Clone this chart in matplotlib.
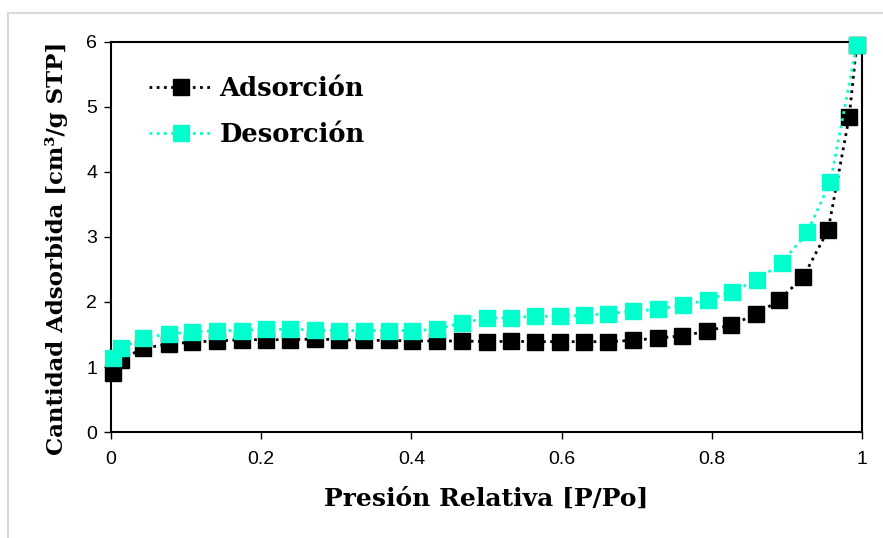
import numpy as np
import matplotlib.pyplot as plt
from matplotlib.patches import Rectangle

# datos
p_ads = [0.003, 0.013, 0.043, 0.077, 0.108, 0.141, 0.174, 0.207, 0.239, 0.272,
         0.304, 0.337, 0.370, 0.401, 0.434, 0.467, 0.501, 0.533, 0.565, 0.598,
         0.630, 0.662, 0.695, 0.728, 0.760, 0.794, 0.826, 0.859, 0.890, 0.922,
         0.955, 0.983, 0.993]
v_ads = [0.91, 1.11, 1.29, 1.35, 1.385, 1.40, 1.42, 1.42, 1.42, 1.43,
         1.42, 1.41, 1.41, 1.40, 1.40, 1.40, 1.39, 1.395, 1.39, 1.39,
         1.39, 1.39, 1.41, 1.445, 1.48, 1.55, 1.65, 1.81, 2.03, 2.39,
         3.11, 4.85, 5.96]
p_des = [0.003, 0.013, 0.043, 0.077, 0.108, 0.141, 0.174, 0.207, 0.239, 0.272,
         0.304, 0.337, 0.370, 0.401, 0.434, 0.467, 0.501, 0.533, 0.565, 0.598,
         0.630, 0.662, 0.695, 0.728, 0.762, 0.795, 0.827, 0.860, 0.893, 0.927,
         0.958, 0.993]
v_des = [1.14, 1.29, 1.445, 1.51, 1.54, 1.56, 1.56, 1.58, 1.58, 1.57,
         1.56, 1.56, 1.56, 1.56, 1.58, 1.68, 1.75, 1.76, 1.78, 1.78,
         1.795, 1.82, 1.86, 1.885, 1.96, 2.03, 2.16, 2.34, 2.60, 3.07,
         3.85, 5.96]

serif = {'family': 'DejaVu Serif', 'weight': 'bold'}

fig = plt.figure(figsize=(8.83, 5.38), dpi=100)
ax = fig.add_axes([0.1257, 0.197, 0.8505, 0.725])

# marco gris alrededor del grafico
fig.add_artist(Rectangle((8/883, -0.05), 1.0, 1 - 13/538 + 0.05, transform=fig.transFigure,
                         fill=False, ec='#d9d9d9', lw=1.5))

ax.plot(p_ads, v_ads, color='black', ls=(0, (1, 1.6)), lw=2, marker='s', ms=11.5,
        mec='black', mfc='black', label='Adsorción', clip_on=False, zorder=3)
ax.plot(p_des, v_des, color='#00ffcc', ls=(0, (1, 1.6)), lw=2, marker='s', ms=11.5,
        mec='#00ffcc', mfc='#00ffcc', label='Desorción', clip_on=False, zorder=4)

ax.set_xlim(0, 1)
ax.set_ylim(0, 6)
ax.set_xticks([0, 0.2, 0.4, 0.6, 0.8, 1])
ax.set_xticklabels(['0', '0.2', '0.4', '0.6', '0.8', '1'])
ax.set_yticks(range(7))
for s in ax.spines.values():
    s.set_linewidth(1.5)
ax.tick_params(direction='out', length=5, width=1, labelsize=14)
ax.tick_params(axis='x', pad=9)
ax.tick_params(axis='y', pad=5)
for lab in ax.get_xticklabels() + ax.get_yticklabels():
    lab.set_family('Liberation Sans')

ax.set_xlabel('Presión Relativa [P/Po]', fontdict=serif, fontsize=18, labelpad=13)
ax.set_ylabel('Cantidad Adsorbida [cm³/g STP]', fontdict=serif, fontsize=16.5)
ax.yaxis.set_label_coords(-0.057, 0.472)

leg = ax.legend(loc='upper left', bbox_to_anchor=(0.033, 0.945), frameon=False,
                prop={'family': 'DejaVu Serif', 'weight': 'bold', 'size': 18.5},
                handlelength=2.5, handletextpad=0.25, labelspacing=0.8, borderpad=0)

fig.savefig('out.png', dpi=100)
